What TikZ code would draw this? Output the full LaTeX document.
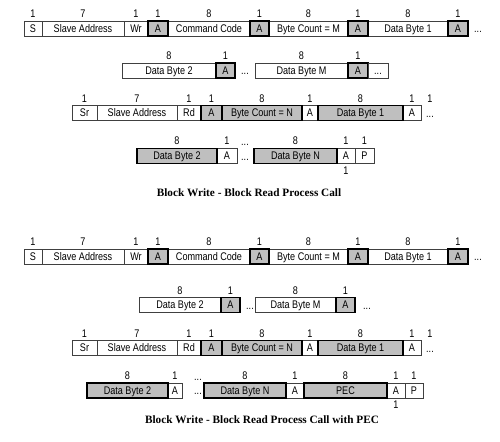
\documentclass[tikz,border=0pt]{standalone}
\usepackage{fontspec}
\setmainfont{Liberation Serif}
\setsansfont[FakeStretch=0.82]{Liberation Sans}

\tikzset{
	fld/.style={draw=black!75, line width=0.4pt, fill=white, inner sep=0pt,
		minimum height=0.3cm, text height=4.5pt, text depth=0pt,
		font=\sffamily\fontsize{6.3}{7}\selectfont},
	ack/.style={fld, draw=black, line width=1.1pt, fill=black!25},
	bits/.style={inner sep=0pt, text height=4.5pt, text depth=0pt,
		font=\sffamily\fontsize{6.3}{7}\selectfont},
	caption/.style={inner sep=0pt, font=\bfseries\fontsize{6.4}{8}\selectfont}
}

\begin{document}
\begin{tikzpicture}[x=0.02cm, y=-0.02cm]
	\useasboundingbox (0,0) rectangle (500,441);
	% first line: write part (both diagrams)
	\foreach \r/\y in {a/28.5, e/256.5} {
		\foreach \n/\xa/\xb/\st/\txt/\b in {s/24/42/fld/S/1, sa/42/124/fld/Slave Address/7,
			wr/124/148/fld/Wr/1, cc/168/250/fld/Command Code/8, bc/269/348/fld/Byte Count = M/8,
			d1/368/448/fld/Data Byte 1/8, a1/148/168/ack/A/1, a2/250/269/ack/A/1,
			a3/348/368/ack/A/1, a4/448/468/ack/A/1} {
			\node[\st, minimum width={(\xb-\xa)*0.02cm}] (\r-\n) at ({(\xa+\xb)/2},\y) {\txt};
			\node[bits] (\r-\n-w) at ({(\xa+\xb)/2},{\y-14.5}) {\b};
		}
		\node[bits, anchor=base] (\r-more) at (478,{\y+4}) {...};
	}
	% second line, first diagram
	\foreach \n/\xa/\xb/\st/\txt/\b in {d2/122/216/fld/Data Byte 2/8, dm/255/348/fld/Data Byte M/8,
		a1/216/235/ack/A/1, a2/348/368/ack/A/1} {
		\node[\st, minimum width={(\xb-\xa)*0.02cm}] (b-\n) at ({(\xa+\xb)/2},70.5) {\txt};
		\node[bits] (b-\n-w) at ({(\xa+\xb)/2},56) {\b};
	}
	\node[fld, minimum width=0.4cm] (b-cell) at (378,70.5) {...};
	\node[bits, anchor=base] (b-gap) at (245,74.5) {...};
	% second line, second diagram
	\foreach \n/\xa/\xb/\st/\txt/\b in {d2/139/221/fld/Data Byte 2/8, dm/255/336/fld/Data Byte M/8,
		a1/221/240/ack/A/1, a2/336/355/ack/A/1} {
		\node[\st, minimum width={(\xb-\xa)*0.02cm}] (f-\n) at ({(\xa+\xb)/2},305) {\txt};
		\node[bits] (f-\n-w) at ({(\xa+\xb)/2},290.5) {\b};
	}
	\node[bits, anchor=base] (f-gap) at (250,309) {...};
	\node[bits, anchor=base] (f-more) at (367,309) {...};
	% third line: read part (both diagrams)
	\foreach \r/\y in {c/113, g/348} {
		\foreach \n/\xa/\xb/\st/\txt/\b in {sr/72/97/fld/Sr/1, sa/97/177/fld/Slave Address/7,
			rd/177/201/fld/Rd/1, a2/302/318/fld/A/1, a3/403/421/fld/A/1, a1/201/222/ack/A/1,
			bc/222/302/ack/Byte Count = N/8, d1/318/403/ack/Data Byte 1/8} {
			\node[\st, minimum width={(\xb-\xa)*0.02cm}] (\r-\n) at ({(\xa+\xb)/2},\y) {\txt};
			\node[bits] (\r-\n-w) at ({(\xa+\xb)/2},{\y-14.5}) {\b};
		}
		\node[bits, anchor=base] (\r-more) at (430,{\y+4}) {...};
		\node[bits] (\r-more-w) at (430,{\y-14.5}) {1};
	}
	% last line, first diagram
	\foreach \n/\xa/\xb/\st/\txt/\b in {a1/217/237/fld/A/1, a2/337/355/fld/A/1, p/355/374/fld/P/1,
		d2/137/217/ack/Data Byte 2/8, dn/254/337/ack/Data Byte N/8} {
		\node[\st, minimum width={(\xb-\xa)*0.02cm}] (d-\n) at ({(\xa+\xb)/2},156) {\txt};
		\node[bits] (d-\n-w) at ({(\xa+\xb)/2},141) {\b};
	}
	\node[bits, anchor=base] (d-gap) at (245,160) {...};
	\node[bits, anchor=base] (d-gap-w) at (245,145) {...};
	\node[bits] (d-nack) at (346,170.5) {1};
	% last line, second diagram
	\foreach \n/\xa/\xb/\st/\txt/\b in {a1/168/182/fld/A/1, a2/286/304/fld/A/1, a3/387/405/fld/A/1,
		p/405/423/fld/P/1, d2/87/168/ack/Data Byte 2/8, dn/204/286/ack/Data Byte N/8,
		pec/304/387/ack/PEC/8} {
		\node[\st, minimum width={(\xb-\xa)*0.02cm}] (h-\n) at ({(\xa+\xb)/2},390.5) {\txt};
		\node[bits] (h-\n-w) at ({(\xa+\xb)/2},376) {\b};
	}
	\node[bits, anchor=base] (h-gap) at (198,394.5) {...};
	\node[bits, anchor=base] (h-gap-w) at (198,380) {...};
	\node[bits] (h-nack) at (396,404.5) {1};
	% captions
	\node[caption] (cap1) at (249,193) {Block Write - Block Read Process Call};
	\node[caption] (cap2) at (262,420) {Block Write - Block Read Process Call with PEC};
\end{tikzpicture}
\end{document}
